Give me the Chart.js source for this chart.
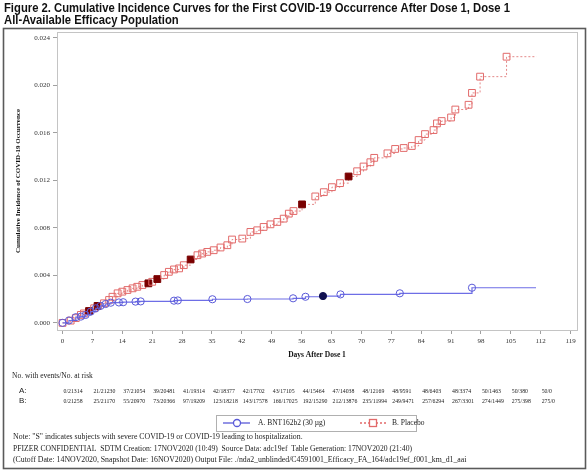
<!DOCTYPE html>
<html>
<head>
<meta charset="utf-8">
<script src="https://cdn.jsdelivr.net/npm/chart.js@4.4.1/dist/chart.umd.min.js"></script>
<style>
  html, body { margin: 0; padding: 0; background: #fff; }
  canvas { display: block; }
</style>
</head>
<body>
<canvas id="km" width="588" height="472"></canvas>
<script>
// tick labels
const xTicks = [0, 7, 14, 21, 28, 35, 42, 49, 56, 63, 70, 77, 84, 91, 98, 105, 112, 119];
const yTicks = [0, 0.004, 0.008, 0.012, 0.016, 0.020, 0.024];

// B. Placebo - event days and cumulative incidence
const placeboDays = [0, 1.9, 3.1, 4.3, 5.0, 6.2, 7.4, 8.2, 9.7, 10.9, 11.7, 12.9, 14.0, 15.2, 16.4, 17.5,
  18.7, 20.1, 21.0, 22.2, 23.8, 24.9, 26.1, 27.3, 28.4, 30.0, 31.6, 32.7, 33.9, 35.4, 37.0, 38.6, 39.7,
  42.1, 44.0, 45.6, 47.1, 48.7, 50.3, 51.8, 53.0, 54.1, 56.1, 59.2, 61.2, 63.1, 65.0, 67.0, 69.0, 70.5,
  72.1, 73.0, 76.1, 77.9, 79.9, 81.8, 83.4, 84.9, 86.9, 87.7, 88.8, 91.0, 92.0, 95.1, 95.9, 97.8, 104.0, 111.0];
const placeboCum = [0, 0.00019, 0.0004, 0.00067, 0.0008, 0.001, 0.00123, 0.00143, 0.00165, 0.00193, 0.0022,
  0.00249, 0.00263, 0.00277, 0.00291, 0.00304, 0.00319, 0.00333, 0.00346, 0.00369, 0.00403, 0.0043, 0.0045,
  0.00459, 0.00486, 0.00534, 0.0057, 0.00584, 0.00598, 0.00612, 0.00635, 0.00654, 0.00702, 0.0071, 0.00766,
  0.0078, 0.00808, 0.0083, 0.0085, 0.00878, 0.0092, 0.00942, 0.00998, 0.01065, 0.01101, 0.01143, 0.01177,
  0.01233, 0.01277, 0.01317, 0.01353, 0.0139, 0.01428, 0.01465, 0.01473, 0.0149, 0.0154, 0.0159, 0.01624,
  0.0168, 0.0170, 0.0173, 0.01797, 0.01837, 0.01937, 0.02074, 0.02242, 0.02242];
const placeboSevereDays = [6.2, 8.2, 20.1, 22.2, 30.0, 56.1, 67.0];

// A. BNT162b2
const vaccineDays = [0, 1.5, 3.1, 4.3, 5.4, 6.6, 7.8, 8.9, 10.1, 11.3, 13.2, 14.2, 17.1, 18.3, 26.1, 27.0,
  35.1, 43.3, 54.0, 56.9, 61.0, 65.1, 79.0, 95.9, 110.9];
const vaccineCum = [0, 0.0002, 0.00048, 0.00053, 0.00067, 0.00095, 0.00123, 0.00143, 0.00159, 0.0017,
  0.00172, 0.00174, 0.00179, 0.00181, 0.00187, 0.00189, 0.00199, 0.00201, 0.00207, 0.0022, 0.00226,
  0.0024, 0.00249, 0.00296, 0.00296];
const vaccineSevereDays = [61.0];

// number with events / number at risk, one per x tick (0..112)
const riskA = ['0/21314', '21/21230', '37/21054', '39/20481', '41/19314', '42/18377', '42/17702', '43/17105',
  '44/15464', '47/14038', '48/12169', '48/9591', '48/6403', '48/3374', '50/1463', '50/380', '50/0'];
const riskB = ['0/21258', '25/21170', '55/20970', '73/20366', '97/19209', '123/18218', '143/17578', '166/17025',
  '192/15290', '212/13876', '235/11994', '249/9471', '257/6294', '267/3301', '274/1449', '275/398', '275/0'];

const titleLines = [
  'Figure 2. Cumulative Incidence Curves for the First COVID-19 Occurrence After Dose 1, Dose 1',
  'All-Available Efficacy Population'
];
const notes = [
  'Note: "S" indicates subjects with severe COVID-19 or COVID-19 leading to hospitalization.',
  'PFIZER CONFIDENTIAL  SDTM Creation: 17NOV2020 (10:49)  Source Data: adc19ef  Table Generation: 17NOV2020 (21:40)',
  '(Cutoff Date: 14NOV2020, Snapshot Date: 16NOV2020) Output File: ./nda2_unblinded/C4591001_Efficacy_FA_164/adc19ef_f001_km_d1_aai'
];
const seriesNames = ['A. BNT162b2 (30 \u00b5g)', 'B. Placebo'];

const SERIF = '"Liberation Serif", "DejaVu Serif", serif';
const SANS = '"Liberation Sans", Arial, sans-serif';

const blue = '#5a5ad8';
const red = '#e26a6a';

function toPoints(days, vals) {
  return days.map((d, i) => ({ x: d, y: vals[i] }));
}

const framePlugin = {
  id: 'frame',
  afterDraw(chart) {
    const ctx = chart.ctx;
    const a = chart.chartArea;
    const x = chart.scales.x;
    ctx.save();

    // plot frame
    ctx.strokeStyle = '#c4c4c4';
    ctx.lineWidth = 1;
    ctx.strokeRect(a.left + 0.5, a.top + 0.5, a.right - a.left, a.bottom - a.top);

    // outer figure frame
    ctx.strokeStyle = '#5a5a5a';
    ctx.lineWidth = 1.6;
    ctx.strokeRect(3.5, 28.5, 582, 440);

    // title
    ctx.fillStyle = '#111';
    ctx.font = 'bold 12.5px ' + SANS;
    ctx.textBaseline = 'alphabetic';
    ctx.textAlign = 'left';
    const sx = 506 / ctx.measureText(titleLines[0]).width;
    ctx.save();
    ctx.scale(sx, 1);
    ctx.fillText(titleLines[0], 4 / sx, 12);
    ctx.fillText(titleLines[1], 4 / sx, 24);
    ctx.restore();

    // at-risk table
    ctx.fillStyle = '#222';
    ctx.textBaseline = 'middle';
    ctx.font = '7.5px ' + SERIF;
    ctx.fillText('No. with events/No. at risk', 12, 376);
    ctx.font = '8px ' + SANS;
    ctx.fillText('A:', 19, 391);
    ctx.fillText('B:', 19, 401);
    ctx.font = '5.8px ' + SERIF;
    riskA.forEach((t, i) => ctx.fillText(t, x.getPixelForValue(xTicks[i]) + 1, 391));
    riskB.forEach((t, i) => ctx.fillText(t, x.getPixelForValue(xTicks[i]) + 1, 401));

    // legend
    const lx = 216, ly = 415, lw = 200, lh = 16, my = ly + lh / 2;
    ctx.strokeStyle = '#b0b0b0';
    ctx.lineWidth = 1;
    ctx.strokeRect(lx + 0.5, ly + 0.5, lw, lh);
    ctx.strokeStyle = blue;
    ctx.lineWidth = 1.3;
    ctx.beginPath(); ctx.moveTo(223, my); ctx.lineTo(250, my); ctx.stroke();
    ctx.fillStyle = '#fff';
    ctx.beginPath(); ctx.arc(237, my, 3.5, 0, Math.PI * 2); ctx.fill(); ctx.stroke();
    ctx.strokeStyle = red;
    ctx.setLineDash([2, 2]);
    ctx.beginPath(); ctx.moveTo(360, my); ctx.lineTo(386, my); ctx.stroke();
    ctx.setLineDash([]);
    ctx.fillRect(369.5, my - 3.5, 7, 7);
    ctx.strokeRect(369.5, my - 3.5, 7, 7);
    ctx.fillStyle = '#222';
    ctx.font = '7.5px ' + SERIF;
    ctx.fillText(seriesNames[0], 258, my);
    ctx.fillText(seriesNames[1], 392, my);

    // footnotes
    ctx.font = '7.8px ' + SERIF;
    ctx.fillText(notes[0], 13, 437, 305);
    ctx.fillText(notes[1], 13, 449, 399);
    ctx.fillText(notes[2], 13, 460, 455);
    ctx.restore();
  }
};

function radiusFor(days) {
  return c => (c.dataIndex === days.length - 1 ? 0 : c.datasetIndex === 0 ? 3.6 : 4.8);
}

new Chart(document.getElementById('km'), {
  type: 'line',
  data: {
    datasets: [
      {
        label: seriesNames[0],
        data: toPoints(vaccineDays, vaccineCum),
        stepped: true,
        borderColor: '#6e6ee6',
        borderWidth: 1.2,
        pointStyle: 'circle',
        pointRadius: radiusFor(vaccineDays),
        pointBorderColor: c => vaccineSevereDays.includes(vaccineDays[c.dataIndex]) ? '#101050' : blue,
        pointBackgroundColor: c => vaccineSevereDays.includes(vaccineDays[c.dataIndex]) ? '#101050' : 'rgba(255,255,255,0)',
        pointBorderWidth: 1
      },
      {
        label: seriesNames[1],
        data: toPoints(placeboDays, placeboCum),
        stepped: true,
        borderColor: '#e48888',
        borderWidth: 1,
        borderDash: [2, 2],
        pointStyle: 'rect',
        pointRadius: radiusFor(placeboDays),
        pointBorderColor: c => placeboSevereDays.includes(placeboDays[c.dataIndex]) ? '#7a0000' : red,
        pointBackgroundColor: c => placeboSevereDays.includes(placeboDays[c.dataIndex]) ? '#7a0000' : 'rgba(255,255,255,0)',
        pointBorderWidth: 1
      }
    ]
  },
  options: {
    responsive: false,
    animation: false,
    layout: { padding: { left: 10, right: 11, top: 32, bottom: 112 } },
    plugins: {
      legend: { display: false },
      tooltip: { enabled: false }
    },
    events: [],
    scales: {
      x: {
        type: 'linear',
        min: -1.3,
        max: 120.5,
        afterBuildTicks: s => { s.ticks = xTicks.map(v => ({ value: v })); },
        afterFit: s => { s.height = 30; },
        grid: { drawOnChartArea: false, drawTicks: true, tickLength: 4, color: '#a0a0a0' },
        border: { display: false },
        ticks: { color: '#333', font: { family: SERIF, size: 7 }, padding: 3, maxRotation: 0, autoSkip: false },
        title: {
          display: true,
          text: 'Days After Dose 1',
          color: '#111',
          font: { family: SERIF, size: 7.5, weight: 'bold' },
          padding: { top: 0, bottom: 0 }
        }
      },
      y: {
        type: 'linear',
        min: -0.0006,
        max: 0.0245,
        afterBuildTicks: s => { s.ticks = yTicks.map(v => ({ value: v })); },
        afterFit: s => { s.width = 47; },
        grid: { drawOnChartArea: false, drawTicks: true, tickLength: 4, color: '#a0a0a0' },
        border: { display: false },
        ticks: { color: '#333', font: { family: SERIF, size: 7 }, padding: 3, callback: v => v.toFixed(3) },
        title: {
          display: true,
          text: 'Cumulative Incidence of COVID-19 Occurrence',
          color: '#111',
          font: { family: SERIF, size: 7, weight: 'bold' },
          padding: { top: 4, bottom: 0 }
        }
      }
    }
  },
  plugins: [framePlugin]
});
</script>
</body>
</html>
